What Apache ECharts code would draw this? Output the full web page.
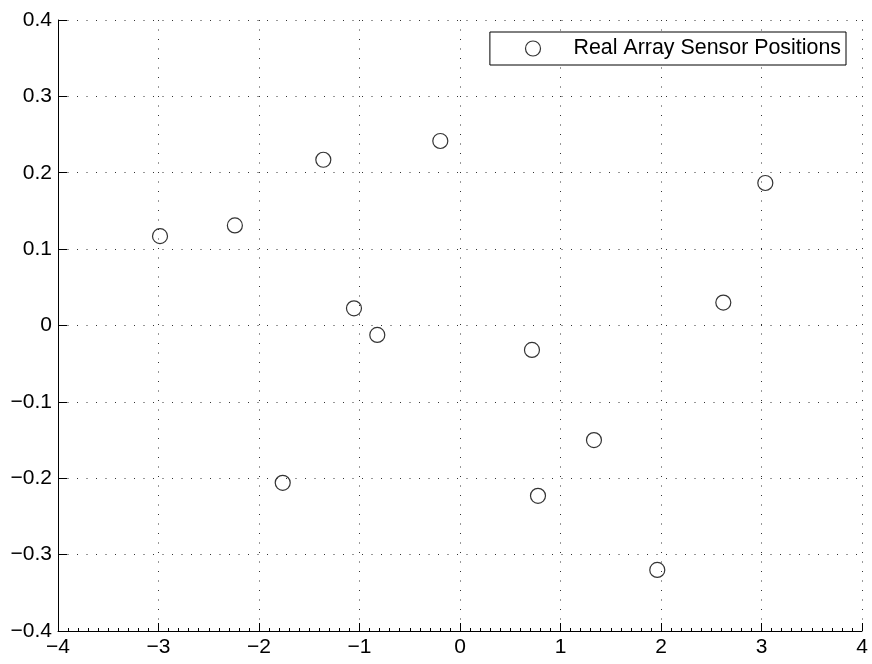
<!DOCTYPE html>
<html>
<head>
<meta charset="utf-8">
<script src="https://cdn.jsdelivr.net/npm/echarts@6/dist/echarts.min.js"></script>
<style>
html,body{margin:0;padding:0;background:#fff;}
#c{width:872px;height:664px;}
</style>
</head>
<body>
<div id="c"></div>
<script>
var seriesName = 'Real Array Sensor Positions';
var sensorX = [-2.985, -2.24, -1.36, -0.196, 3.038, -1.055, -0.823, 2.62, 0.716, 1.333, -1.764, 0.776, 1.963];
var sensorY = [0.117, 0.131, 0.217, 0.2416, 0.1866, 0.0225, -0.0124, 0.030, -0.032, -0.150, -0.206, -0.223, -0.320];
var xTicks = [-4, -3, -2, -1, 0, 1, 2, 3, 4];
var yTicks = [-0.4, -0.3, -0.2, -0.1, 0, 0.1, 0.2, 0.3, 0.4];

var points = sensorX.map(function (x, i) { return [x, sensorY[i]]; });
var fontFam = '"Liberation Sans", Arial, Helvetica, sans-serif';
function fmtY(v) {
  if (Math.abs(v) < 1e-9) return '0';
  return v.toFixed(1).replace('-', '\u2212');
}
function fmtX(v) {
  return String(Math.round(v)).replace('-', '\u2212');
}
var gridLine = { show: true, lineStyle: { color: '#333', width: 1, type: [1, 8.5] } };

var chart = echarts.init(document.getElementById('c'), null, { renderer: 'canvas' });
chart.setOption({
  animation: false,
  backgroundColor: '#fff',
  grid: { left: 58, right: 10, top: 20, bottom: 33, containLabel: false },
  legend: {
    data: [seriesName],
    right: 26,
    top: 32,
    orient: 'vertical',
    borderColor: '#000',
    borderWidth: 1,
    backgroundColor: '#fff',
    padding: [6, 5, 6, 35],
    itemWidth: 15,
    itemHeight: 15,
    itemStyle: { color: 'rgba(255,255,255,0)', borderColor: '#000', borderWidth: 1.2 },
    textStyle: { fontFamily: fontFam, fontSize: 21.4, color: '#000', padding: [0, 0, 0, 28] }
  },
  xAxis: {
    type: 'value',
    min: xTicks[0],
    max: xTicks[xTicks.length - 1],
    interval: 1,
    axisLine: { show: true, onZero: false, lineStyle: { color: '#000', width: 1 } },
    axisTick: { show: true, inside: true, length: 8, lineStyle: { color: '#000' } },
    minorTick: { show: true, splitNumber: 10, length: 3, lineStyle: { color: '#000' } },
    axisLabel: { formatter: fmtX, fontFamily: fontFam, fontSize: 21, color: '#000', margin: 6 },
    splitLine: gridLine
  },
  yAxis: {
    type: 'value',
    min: yTicks[0],
    max: yTicks[yTicks.length - 1],
    interval: 0.1,
    axisLine: { show: true, onZero: false, lineStyle: { color: '#000', width: 1 } },
    axisTick: { show: true, inside: true, length: 9, lineStyle: { color: '#000' } },
    axisLabel: { formatter: fmtY, fontFamily: fontFam, fontSize: 21, color: '#000', margin: 6 },
    splitLine: gridLine
  },
  series: [{
    name: seriesName,
    type: 'scatter',
    data: points,
    symbol: 'circle',
    symbolSize: 15,
    itemStyle: { color: 'rgba(255,255,255,0)', borderColor: '#000', borderWidth: 1.2 }
  }]
});
</script>
</body>
</html>
